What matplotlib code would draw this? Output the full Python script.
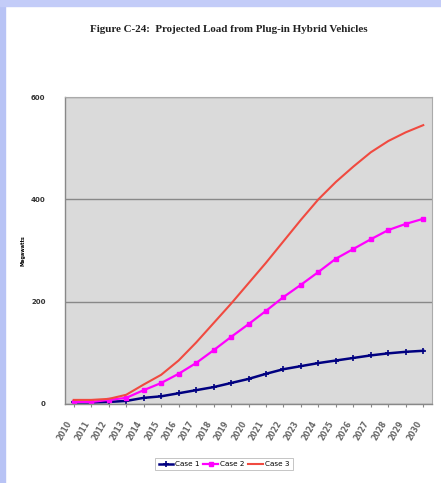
import matplotlib
matplotlib.use('Agg')
import matplotlib.pyplot as plt
from matplotlib.patches import Rectangle

# data
years = [str(y) for y in range(2010, 2031)]
case1 = [3, 3, 4, 6, 12, 15, 21, 27, 33, 41, 49, 59, 68, 74, 80, 85, 90, 95, 99, 102, 104]
case2 = [4, 4, 8, 12, 27, 41, 59, 80, 105, 131, 156, 182, 209, 233, 258, 284, 303, 322, 340, 352, 362]
case3 = [8, 8, 10, 18, 38, 57, 85, 120, 158, 196, 236, 276, 318, 360, 400, 434, 464, 492, 514, 531, 545]

fig = plt.figure(figsize=(4.41, 4.83), dpi=100)
fig.patch.set_facecolor('white')

# blue frame of the screenshot (left and top bands)
fig.patches.append(Rectangle((0, 0), 5/441, 1, transform=fig.transFigure,
                             color='#B8C3F5', zorder=0))
fig.patches.append(Rectangle((0, 1 - 6/483), 1, 6/483, transform=fig.transFigure,
                             color='#C3CCF8', zorder=0))

fig.text(229/441, 1 - 30/483, 'Figure C-24:  Projected Load from Plug-in Hybrid Vehicles',
         ha='center', va='center', fontsize=7.9, fontweight='bold',
         family='Liberation Serif', color='#222222')

ax = fig.add_axes([65/441, 1 - 404/483, 367/441, 307/483])
ax.set_facecolor('#DADADA')

x = list(range(len(years)))
ax.plot(x, case1, color='#000080', lw=1.8, marker='+', ms=4, mew=1.2, label='Case 1')
ax.plot(x, case2, color='#FF00FF', lw=1.6, marker='s', ms=3.5, label='Case 2')
ax.plot(x, case3, color='#F04A40', lw=1.5, label='Case 3')

ax.set_xlim(-0.5, len(years) - 0.5)
ax.set_ylim(0, 600)
ax.set_yticks([0, 200, 400, 600])
ax.set_yticklabels(['0', '200', '400', '600'], fontsize=5, fontweight='bold', color='#333333')
ax.yaxis.grid(True, color='#888888', lw=1)
ax.set_axisbelow(True)
ax.tick_params(axis='y', length=0, pad=14)

ax.set_xticks(x)
ax.set_xticklabels(years, rotation=60, ha='right', fontsize=5.5, color='#666666',
                   fontweight='bold')
ax.tick_params(axis='x', length=2, color='#888888', pad=9)

for s in ['top', 'right']:
    ax.spines[s].set_color('#AAAAAA')
    ax.spines[s].set_linewidth(0.8)
for s in ['left', 'bottom']:
    ax.spines[s].set_color('#888888')
    ax.spines[s].set_linewidth(1)

ax.set_ylabel('Megawatts', fontsize=3.5, fontweight='bold', labelpad=4)

handles, labels = ax.get_legend_handles_labels()
leg = fig.legend(handles, labels, loc='center', bbox_to_anchor=(224/441, 1 - 464/483),
                 ncol=3, fontsize=5.2, frameon=True, fancybox=False, handlelength=2.0,
                 columnspacing=0.5, handletextpad=0.3, borderpad=0.45)
leg.get_frame().set_edgecolor('#AAAAAA')
leg.get_frame().set_linewidth(0.6)

fig.savefig('out.png', dpi=100, facecolor='white')
